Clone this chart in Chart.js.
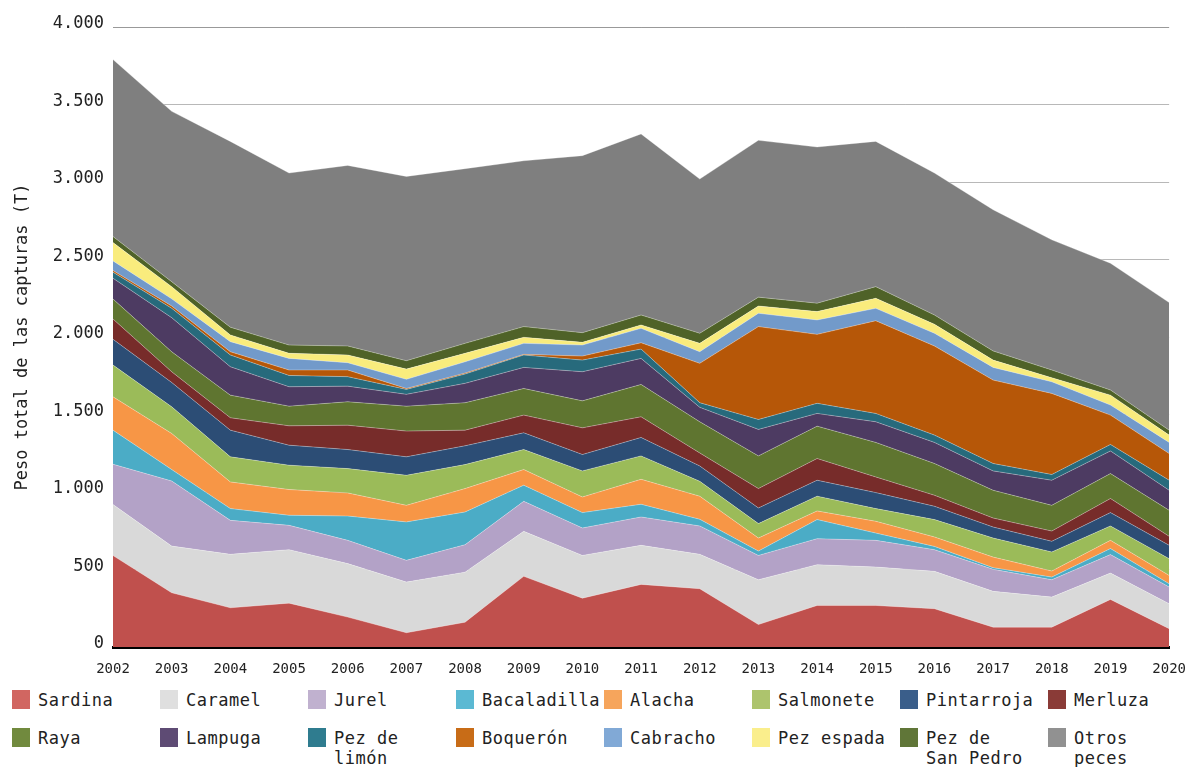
<!DOCTYPE html>
<html lang="es">
<head>
<meta charset="utf-8">
<title>Capturas por especie</title>
<script src="https://cdn.jsdelivr.net/npm/chart.js@4.4.1/dist/chart.umd.min.js"></script>
<style>
  html, body { margin: 0; padding: 0; background: #fff; overflow: hidden; }
  body { width: 1186px; height: 767px; position: relative; }
  #chart { position: absolute; left: 0; top: 0; }
  #legend {
    position: absolute; left: 12px; top: 690px;
    display: grid;
    grid-template-columns: repeat(8, 148px);
    row-gap: 18px;
    font-family: 'DejaVu Sans Mono', monospace;
    font-size: 17px; line-height: 20px; letter-spacing: 0.5px; color: #222;
  }
  .item { display: flex; align-items: flex-start; }
  .box { width: 18px; height: 19px; margin-right: 8px; flex: none; }
  .txt { white-space: pre; }
</style>
</head>
<body>
<canvas id="chart" width="1200" height="690"></canvas>
<div id="legend"></div>
<script>
// Years on the x axis
const years = ['2002', '2003', '2004', '2005', '2006', '2007', '2008', '2009', '2010',
    '2011', '2012', '2013', '2014', '2015', '2016', '2017', '2018', '2019', '2020'];

// Catch per species (T), bottom of the stack first
const sardina = [590, 350, 253, 283, 193, 92, 160, 456, 315, 404, 376, 145, 268, 268, 247, 128, 128, 307, 118];
const caramel = [329, 301, 345, 345, 345, 327, 323, 290, 276, 252, 222, 289, 263, 248, 241, 231, 194, 170, 161];
const jurel = [260, 420, 219, 157, 150, 140, 177, 194, 177, 183, 183, 157, 168, 172, 140, 142, 112, 119, 108];
const bacaladilla = [220, 74, 76, 65, 157, 248, 211, 104, 99, 82, 43, 28, 123, 47, 21, 11, 17, 39, 21];
const alacha = [215, 233, 172, 166, 149, 107, 151, 101, 101, 161, 149, 84, 56, 76, 61, 68, 39, 53, 54];
const salmonete = [205, 172, 162, 157, 157, 194, 155, 129, 168, 151, 96, 93, 95, 82, 112, 123, 123, 93, 108];
const pintarroja = [166, 157, 172, 129, 123, 119, 121, 108, 106, 119, 99, 101, 103, 103, 86, 71, 69, 86, 86];
const merluza = [131, 69, 80, 125, 157, 166, 101, 114, 172, 133, 84, 125, 140, 101, 71, 58, 66, 91, 58];
const raya = [129, 129, 146, 127, 151, 161, 177, 172, 174, 209, 201, 211, 209, 223, 205, 179, 166, 161, 168];
const lampuga = [134, 220, 183, 125, 101, 76, 125, 136, 188, 168, 93, 171, 82, 133, 136, 125, 162, 146, 129];
const pezLimon = [39, 60, 76, 73, 61, 32, 60, 80, 75, 60, 30, 64, 65, 54, 47, 48, 37, 42, 65];
const boqueron = [11, 15, 21, 35, 43, 6, 6, 4, 26, 41, 254, 599, 445, 598, 575, 538, 523, 189, 172];
const cabracho = [62, 46, 65, 75, 47, 59, 73, 71, 71, 93, 75, 86, 93, 80, 82, 82, 75, 65, 72];
const pezEspada = [118, 79, 43, 33, 50, 66, 55, 39, 18, 22, 54, 47, 54, 65, 58, 47, 26, 64, 47];
const pezSanPedro = [39, 32, 50, 53, 58, 54, 64, 69, 62, 64, 65, 57, 54, 75, 60, 59, 50, 33, 32];
const otrosPeces = [1142, 1099, 1199, 1110, 1165, 1189, 1127, 1070, 1142, 1168, 995, 1012, 1008, 937, 916, 911, 840, 818, 823];

const species = ['Sardina', 'Caramel', 'Jurel', 'Bacaladilla', 'Alacha', 'Salmonete', 'Pintarroja', 'Merluza',
    'Raya', 'Lampuga', 'Pez de limón', 'Boquerón', 'Cabracho', 'Pez espada', 'Pez de San Pedro', 'Otros peces'];
const series = [sardina, caramel, jurel, bacaladilla, alacha, salmonete, pintarroja, merluza,
    raya, lampuga, pezLimon, boqueron, cabracho, pezEspada, pezSanPedro, otrosPeces];

const areaColors = ['#C0504D', '#D9D9D9', '#B3A2C7', '#4BACC6', '#F79646', '#9BBB59', '#2C4D75', '#772C2A',
    '#5F7530', '#4D3B62', '#276A7C', '#B65708', '#729ACA', '#F9EC7D', '#4F6228', '#7F7F7F'];
const legendColors = ['#D16661', '#DFDFDF', '#C0B1CF', '#5BB9D3', '#F6A55C', '#ADC46D', '#3A5E8A', '#8A3B37',
    '#718A3E', '#5E4B74', '#2F7C8F', '#C86C17', '#81A9D6', '#FAEE8C', '#607638', '#919191'];

const MONO = "'DejaVu Sans Mono', monospace";

function formatThousands(v) {
    if (v < 1000) return String(v);
    return Math.floor(v / 1000) + '.' + String(v % 1000).padStart(3, '0');
}

const datasets = series.map((data, i) => ({
    label: species[i],
    data: data,
    backgroundColor: areaColors[i],
    borderColor: 'rgba(255,255,255,0.3)',
    borderWidth: 1,
    pointRadius: 0,
    tension: 0,
    fill: i === 0 ? 'origin' : '-1'
}));

new Chart(document.getElementById('chart'), {
    type: 'line',
    data: { labels: years, datasets: datasets },
    options: {
        responsive: false,
        animation: false,
        layout: { padding: { top: 27, right: 24, left: 0, bottom: 0 } },
        plugins: {
            legend: { display: false },
            tooltip: { enabled: false }
        },
        scales: {
            x: {
                z: 1,
                offset: false,
                grid: { display: false, drawTicks: false },
                border: { display: true, color: '#000', width: 3 },
                ticks: {
                    color: '#222',
                    font: { family: MONO, size: 14 },
                    padding: 14,
                    maxRotation: 0,
                    autoSkip: false
                },
                afterFit: scale => { scale.height = 43; }
            },
            y: {
                z: 1,
                stacked: true,
                min: 0,
                max: 4000,
                border: { display: false },
                grid: {
                    color: ctx => ctx.tick && ctx.tick.value === 4000 ? 'rgba(0,0,0,0.4)' : 'rgba(0,0,0,0.28)',
                    drawTicks: false
                },
                ticks: {
                    stepSize: 500,
                    color: '#222',
                    font: { family: MONO, size: 17 },
                    padding: 9,
                    labelOffset: -3,
                    callback: v => formatThousands(v)
                },
                title: {
                    display: true,
                    text: 'Peso total de las capturas (T)',
                    color: '#222',
                    font: { family: MONO, size: 17 },
                    padding: { top: 12, bottom: 0 }
                },
                afterFit: scale => { scale.width = 113; }
            }
        }
    }
});

// HTML legend, two rows of eight
const legend = document.getElementById('legend');
species.forEach((name, i) => {
    const item = document.createElement('div');
    item.className = 'item';
    const box = document.createElement('span');
    box.className = 'box';
    box.style.background = legendColors[i];
    const txt = document.createElement('span');
    txt.className = 'txt';
    txt.textContent = name.replace(/^(Pez de|Otros) /, '$1\n');
    item.appendChild(box);
    item.appendChild(txt);
    legend.appendChild(item);
});
</script>
</body>
</html>
